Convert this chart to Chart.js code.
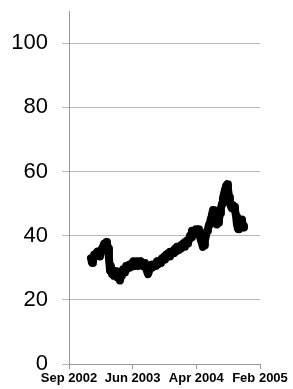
<!DOCTYPE html>
<html>
<head>
<meta charset="utf-8">
<script src="https://cdn.jsdelivr.net/npm/chart.js@4/dist/chart.umd.min.js"></script>
<style>
html,body{margin:0;padding:0;background:#fff;}
#wrap{width:293px;height:389px;}
</style>
</head>
<body>
<div id="wrap"><canvas id="c" width="293" height="389"></canvas></div>
<script>
// Day offsets from Sep 2002 (axis start) and price values
const days = [100,105,109,114,118,123,128,132,137,141,146,150,155,160,164,169,173,178,182,187,191,196,200,205,210,214,219,223,228,232,237,241,246,251,255,260,264,269,274,278,283,287,292,296,301,305,310,314,319,323,328,333,337,342,346,351,355,360,365,369,374,378,383,387,392,396,401,405,410,415,419,424,428,433,437,442,447,451,456,460,465,469,474,478,483,487,492,497,501,506,510,515,519,524,528,533,538,542,547,551,556,560,565,569,574,578,583,588,592,597,601,606,610,615,619,624,629,633,638,642,647,651,656,660,665,670,674,679,683,688,692,697,701,706,711,715,720,724,729,733,738,742,747,752,756,761,765,770,774,779,784,788,793,797,802,806,811,815,820,824,829,834];
const values = [33,31.5,32,34,33.5,34.5,35,34,34.5,33.5,35.5,36,36.5,37.5,37,38,37.5,36,33,29,30.5,28,29,27.5,29,28,27,28.5,27.5,26,27.5,28,29.5,29,28.5,30.5,29.5,30,31,30,30.5,31,32,30.5,31.5,31,32,30.5,31,31.5,32,31,30.5,31.5,31,30,29,28,29,29.5,30,31,30.5,31,30.5,31.5,32,31,32,31.5,32.5,33,32.5,33.5,32.5,34,33.5,34.5,33.5,35,34.5,35,34.5,35.5,36,35,36.5,35.5,36.5,36,37,36.5,37.5,36.5,38,37.5,38.5,37.5,39,40,39.5,41.5,41,40.5,41.5,42,41.5,42,41,39.5,38.5,37.5,36.5,37,38.5,40,41.5,42,43.5,44,45.5,46.5,48,47,45,44,43.5,44,45,47,48.5,50,51.5,53,54.5,55.5,56,54.5,52,50.5,49,48.5,49.5,49,48,46,43.5,42,42.5,44,45,44.5,43,42.5];
const xTickDays = [0,290,580,870];
const xTickLabels = ['Sep 2002','Jun 2003','Apr 2004','Feb 2005'];
const yTicks = [0,20,40,60,80,100];

const pts = days.map((d,i)=>({x:d,y:values[i]}));

new Chart(document.getElementById('c'),{
  type:'line',
  data:{datasets:[{data:pts,borderColor:'#000',borderWidth:8,pointRadius:0,tension:0,borderJoinStyle:'round',borderCapStyle:'round',fill:false}]},
  options:{
    responsive:false,animation:false,
    layout:{padding:{top:11,right:33,left:0,bottom:0}},
    plugins:{legend:{display:false},tooltip:{enabled:false}},
    scales:{
      x:{type:'linear',min:0,max:870,
        afterBuildTicks:s=>{s.ticks=xTickDays.map(v=>({value:v}));},
        afterFit:s=>{s.height=25;s.paddingLeft=0;s.paddingRight=0;},
        ticks:{autoSkip:false,maxRotation:0,minRotation:0,padding:2,color:'#000',
          font:{family:'Liberation Sans, Arial, sans-serif',size:13,weight:'bold'},
          callback:(v)=>{const i=xTickDays.indexOf(v);return i>=0?xTickLabels[i]:'';}},
        grid:{display:true,drawOnChartArea:false,drawTicks:true,tickLength:5,color:'#999'},
        border:{display:true,color:'#999',width:1}
      },
      y:{min:0,max:110,
        afterBuildTicks:s=>{s.ticks=yTicks.map(v=>({value:v}));},
        afterFit:s=>{s.width=69;s.paddingTop=0;s.paddingBottom=0;},
        ticks:{padding:14,color:'#000',font:{family:'Liberation Sans, Arial, sans-serif',size:22}},
        grid:{color:'#b8b8b8',lineWidth:1,drawTicks:true,tickLength:7},
        border:{display:true,color:'#999',width:1}
      }
    }
  }
});
</script>
</body>
</html>
